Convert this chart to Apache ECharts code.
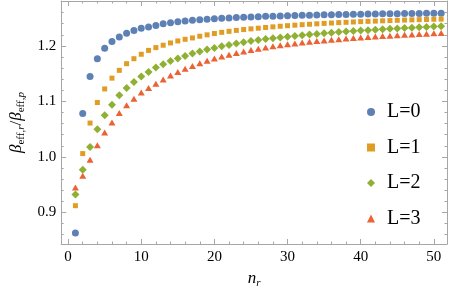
<!DOCTYPE html>
<html><head><meta charset="utf-8">
<script src="https://cdn.jsdelivr.net/npm/echarts@6/dist/echarts.min.js"></script>
<style>html,body{margin:0;padding:0;background:#fff}#c{width:450px;height:295px}</style>
</head><body><div id="c"></div>
<script>
var nr = [1,2,3,4,5,6,7,8,9,10,11,12,13,14,15,16,17,18,19,20,21,22,23,24,25,26,27,28,29,30,31,32,33,34,35,36,37,38,39,40,41,42,43,44,45,46,47,48,49,50,51];
var L0 = [0.863,1.078,1.145,1.177,1.196,1.208,1.216,1.223,1.228,1.232,1.234,1.237,1.2401,1.2419,1.2435,1.2449,1.2461,1.2472,1.2481,1.249,1.2498,1.2505,1.2511,1.2517,1.2523,1.2528,1.2533,1.2537,1.2541,1.2545,1.2549,1.2552,1.2555,1.2558,1.2561,1.2563,1.2566,1.2568,1.257,1.2572,1.2575,1.2576,1.2578,1.258,1.2582,1.2583,1.2585,1.2586,1.2588,1.2589,1.259];
var L1 = [0.912,1.006,1.061,1.098,1.1225,1.142,1.156,1.168,1.177,1.185,1.192,1.197,1.2013,1.2054,1.209,1.212,1.2144,1.2175,1.22,1.2224,1.2245,1.2263,1.228,1.2295,1.2308,1.232,1.2333,1.2344,1.2355,1.2365,1.2374,1.2383,1.2391,1.2399,1.2406,1.2413,1.242,1.2426,1.2432,1.2438,1.2443,1.2448,1.2453,1.2457,1.2462,1.2466,1.247,1.2474,1.2477,1.2481,1.2484];
var L2 = [0.932,0.977,1.018,1.05,1.075,1.094,1.111,1.124,1.135,1.145,1.153,1.161,1.167,1.173,1.1773,1.182,1.1863,1.19,1.1935,1.1964,1.1995,1.2018,1.2043,1.2067,1.209,1.2107,1.2123,1.2138,1.2153,1.2167,1.218,1.2193,1.2205,1.2217,1.2228,1.2239,1.2249,1.2259,1.2268,1.2277,1.2285,1.2293,1.2301,1.2309,1.2316,1.2323,1.233,1.2337,1.2343,1.2349,1.2355];
var L3 = [0.945,0.966,0.995,1.021,1.044,1.062,1.079,1.093,1.105,1.116,1.124,1.132,1.1395,1.1465,1.153,1.1588,1.164,1.1688,1.1732,1.1772,1.1808,1.1842,1.1873,1.1901,1.1927,1.1951,1.1973,1.1993,1.2012,1.2029,1.2045,1.206,1.2074,1.2087,1.2099,1.2111,1.2122,1.2132,1.2142,1.2151,1.216,1.2169,1.2177,1.2185,1.2193,1.22,1.2207,1.2214,1.2221,1.2227,1.2233];
var seriesNames = ['L=0','L=1','L=2','L=3'];
var xMajor = [0,10,20,30,40,50];
var xMinor = [2,4,6,8,12,14,16,18,22,24,26,28,32,34,36,38,42,44,46,48];
var yMajor = [0.9,1.0,1.1,1.2];
var yMinor = [0.86,0.88,0.92,0.94,0.96,0.98,1.02,1.04,1.06,1.08,1.12,1.14,1.16,1.18,1.22,1.24,1.26,1.28];

var colors = ['#5E81B5','#E19C24','#8FB032','#EB6235'];
var symbols = ['circle','rect','diamond','triangle'];
var sizes = [7,5,8,[7,6]];
var vals = [L0,L1,L2,L3];
var FONT = 'Liberation Serif';
var AX = '#a6a6a6';
var XMIN = -0.95, XMAX = 51.8, YMIN = 0.843, YMAX = 1.281;

function xAx(pos, ticks, len, labels, line) {
  return {type:'value', position:pos, min:XMIN, max:XMAX, gridIndex:0,
    axisLine:{show:line, onZero:false, lineStyle:{color:AX,width:1}},
    axisTick:{show:true, inside:true, length:len, customValues:ticks, lineStyle:{color:AX}},
    axisLabel:{show:labels, customValues:ticks, margin:6, fontFamily:FONT, fontSize:15, color:'#000'},
    splitLine:{show:false}};
}
function yAx(pos, ticks, len, labels, line) {
  return {type:'value', position:pos, min:YMIN, max:YMAX, gridIndex:0,
    axisLine:{show:line, onZero:false, lineStyle:{color:AX,width:1}},
    axisTick:{show:true, inside:true, length:len, customValues:ticks, lineStyle:{color:AX}},
    axisLabel:{show:labels, customValues:ticks, margin:5, fontFamily:FONT, fontSize:15, color:'#000',
      formatter:function(v){return v.toFixed(1);}},
    splitLine:{show:false}};
}
var xAxes = [xAx('bottom',xMajor,5,true,true), xAx('bottom',xMinor,2.5,false,false),
             xAx('top',xMajor,5,false,true), xAx('top',xMinor,2.5,false,false)];
xAxes[0].name = '{i|n}{si|r}';
xAxes[0].nameLocation = 'middle';
xAxes[0].nameGap = 24;
xAxes[0].nameTextStyle = {rich:{i:{fontFamily:FONT,fontStyle:'italic',fontSize:17,color:'#000'},
  si:{fontFamily:FONT,fontStyle:'italic',fontSize:11,color:'#000',padding:[9,0,0,0]}}};
var yAxes = [yAx('left',yMajor,5,true,true), yAx('left',yMinor,2.5,false,false),
             yAx('right',yMajor,5,false,true), yAx('right',yMinor,2.5,false,false)];
yAxes[0].name = '{b|β}{s|eff,}{si|r}{n|/}{b|β}{s|eff,}{si|p}';
yAxes[0].nameLocation = 'middle';
yAxes[0].nameRotate = 90;
yAxes[0].nameGap = 31;
var sub = {fontFamily:FONT,fontSize:11,color:'#000',padding:[9,0,0,0]};
yAxes[0].nameTextStyle = {rich:{
  b:{fontFamily:FONT,fontStyle:'italic',fontSize:17,color:'#000'},
  n:{fontFamily:FONT,fontSize:17,color:'#000'},
  s:sub,
  si:Object.assign({},sub,{fontStyle:'italic'})}};

var series = seriesNames.map(function(nm,k){
  return {name:nm, type:'scatter', xAxisIndex:0, yAxisIndex:0,
    symbol:symbols[k], symbolSize:sizes[k],
    itemStyle:{color:colors[k], opacity:1},
    data: nr.map(function(n,i){return [n, vals[k][i]];})};
});

var legendText = {fontFamily:FONT, fontSize:20, color:'#000', lineHeight:20, padding:[0,0,0,7]};
var chart = echarts.init(document.getElementById('c'), null, {renderer:'canvas'});
chart.setOption({
  animation:false,
  textStyle:{fontFamily:FONT},
  grid:{left:54, right:3, top:1, bottom:51, containLabel:false},
  xAxis:xAxes, yAxis:yAxes,
  legend:{orient:'vertical', left:362, top:97, itemWidth:8, itemHeight:8, itemGap:15.5,
    textStyle:legendText,
    data:seriesNames.map(function(nm,k){return {name:nm, icon:symbols[k], textStyle:legendText};})},
  series:series
});
</script></body></html>
